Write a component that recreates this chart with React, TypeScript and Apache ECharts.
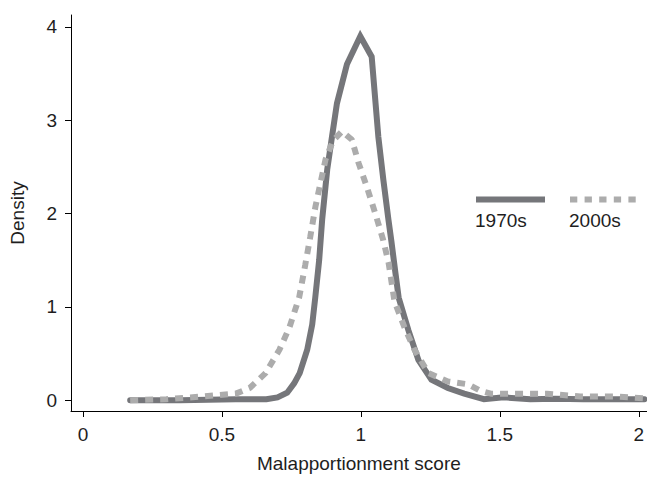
import React, { useEffect, useRef } from "react";
import * as echarts from "echarts";

const xTicks = [0, 0.5, 1, 1.5, 2];
const yTicks = [0, 1, 2, 3, 4];

const x1970 = [0.17, 0.25, 0.35, 0.45, 0.55, 0.62, 0.66, 0.7, 0.735, 0.76, 0.78, 0.807, 0.825, 0.836, 0.85, 0.861, 0.879, 0.896, 0.914, 0.95, 0.998, 1.039, 1.063, 1.081, 1.099, 1.11, 1.125, 1.136, 1.171, 1.207, 1.254, 1.313, 1.372, 1.443, 1.514, 1.61, 1.7, 1.8, 1.9, 2.02];
const y1970 = [0.0, 0.0, 0.0, 0.005, 0.01, 0.01, 0.01, 0.03, 0.08, 0.18, 0.29, 0.54, 0.81, 1.1, 1.5, 1.94, 2.47, 2.82, 3.18, 3.6, 3.9, 3.68, 2.82, 2.36, 1.94, 1.7, 1.35, 1.1, 0.75, 0.43, 0.22, 0.13, 0.07, 0.01, 0.03, 0.01, 0.015, 0.01, 0.01, 0.01];

const x2000 = [0.17, 0.3, 0.43, 0.55, 0.6, 0.657, 0.707, 0.743, 0.778, 0.8, 0.818, 0.837, 0.855, 0.873, 0.9, 0.932, 0.968, 0.992, 1.021, 1.051, 1.08, 1.1, 1.121, 1.157, 1.193, 1.243, 1.313, 1.386, 1.43, 1.468, 1.575, 1.67, 1.79, 1.907, 2.02];
const y2000 = [0.0, 0.01, 0.04, 0.07, 0.13, 0.29, 0.54, 0.78, 1.1, 1.45, 1.75, 2.08, 2.33, 2.58, 2.78, 2.88, 2.79, 2.54, 2.29, 2.01, 1.72, 1.47, 1.06, 0.78, 0.54, 0.29, 0.2, 0.17, 0.1, 0.07, 0.07, 0.07, 0.04, 0.04, 0.02];

const seriesNames = ["1970s", "2000s"];
const xTitle = "Malapportionment score";
const yTitle = "Density";

const SOLID = "#75767a";
const DASH = "#acacac";
const FONT = "Liberation Sans";
const TXT = "#1e1e1e";

export default function App() {
  const ref = useRef<HTMLDivElement>(null);
  useEffect(() => {
    if (!ref.current) return;
    const chart = echarts.init(ref.current, null, { renderer: "svg" });
    const fmt = (v: number) => String(v);
    chart.setOption({
      animation: false,
      backgroundColor: "#ffffff",
      grid: { left: 67, right: 0, top: 15, bottom: 61, containLabel: false },
      xAxis: {
        type: "value",
        min: -0.0429,
        max: 2.0286,
        name: xTitle,
        nameLocation: "middle",
        nameGap: 43,
        nameTextStyle: { fontFamily: FONT, fontSize: 19, color: TXT },
        axisLine: { show: true, onZero: false, lineStyle: { color: "#000", width: 1 } },
        axisTick: { show: true, length: 6, customValues: xTicks, lineStyle: { color: "#000" } },
        axisLabel: { customValues: xTicks, formatter: fmt, margin: 14, fontFamily: FONT, fontSize: 19, color: TXT },
        splitLine: { show: false },
      },
      yAxis: {
        type: "value",
        min: -0.116,
        max: 4.127,
        name: yTitle,
        nameLocation: "middle",
        nameGap: 44,
        nameTextStyle: { fontFamily: FONT, fontSize: 19, color: TXT },
        axisLine: { show: true, onZero: false, lineStyle: { color: "#000", width: 1 } },
        axisTick: { show: true, length: 6, customValues: yTicks, lineStyle: { color: "#000" } },
        axisLabel: { customValues: yTicks, formatter: fmt, margin: 14, fontFamily: FONT, fontSize: 19, color: TXT },
        splitLine: { show: false },
      },
      series: [
        {
          name: seriesNames[0],
          type: "line",
          data: x1970.map((x, i) => [x, y1970[i]]),
          showSymbol: false,
          symbol: "none",
          lineStyle: { color: SOLID, width: 6, cap: "round", join: "miter" },
          z: 2,
        },
        {
          name: seriesNames[1],
          type: "line",
          data: x2000.map((x, i) => [x, y2000[i]]),
          showSymbol: false,
          symbol: "none",
          lineStyle: { color: DASH, width: 6, type: [8, 7], cap: "butt" },
          z: 3,
        },
      ],
      graphic: [
        { type: "line", shape: { x1: 476, y1: 199.5, x2: 545, y2: 199.5 }, style: { stroke: SOLID, lineWidth: 6 } },
        { type: "text", x: 475, y: 220, style: { text: seriesNames[0], fontFamily: FONT, fontSize: 19, fill: TXT, verticalAlign: "middle", align: "left" } },
        { type: "line", shape: { x1: 570, y1: 199.5, x2: 637, y2: 199.5 }, style: { stroke: DASH, lineWidth: 6, lineDash: [7.3, 7.3] } },
        { type: "text", x: 569, y: 220, style: { text: seriesNames[1], fontFamily: FONT, fontSize: 19, fill: TXT, verticalAlign: "middle", align: "left" } },
      ],
    });
    return () => chart.dispose();
  }, []);
  return <div ref={ref} style={{ width: 647, height: 478, position: "absolute", left: 0, top: 0 }} />;
}
